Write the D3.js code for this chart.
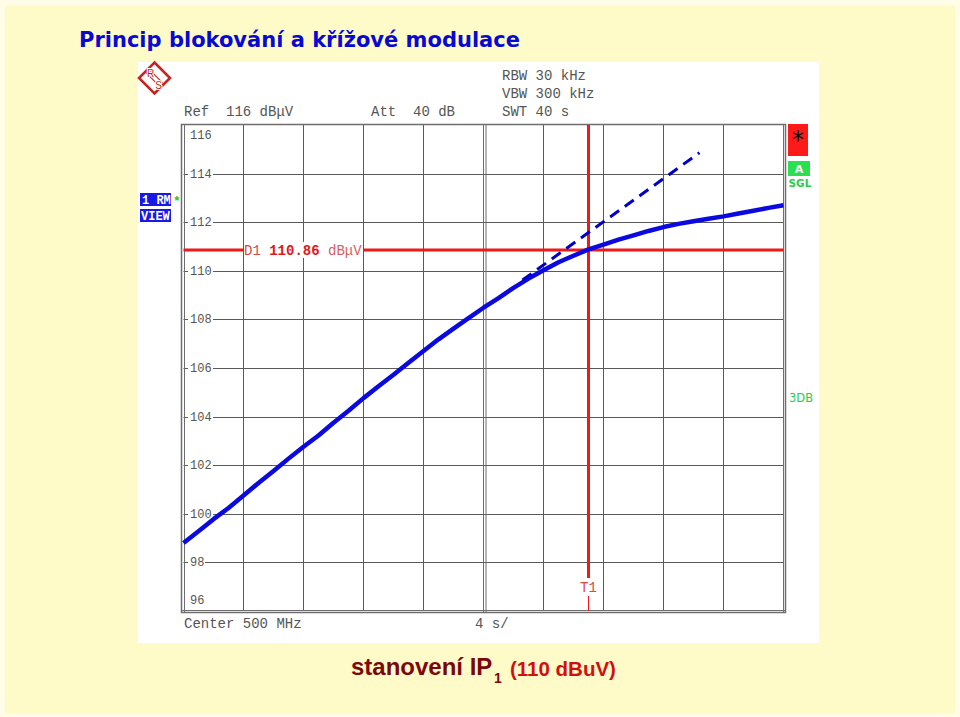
<!DOCTYPE html>
<html>
<head>
<meta charset="utf-8">
<script src="https://cdn.jsdelivr.net/npm/d3@7"></script>
<style>
body { margin: 0; background: #fffde8; }
svg { display: block; }
text { white-space: pre; }
</style>
</head>
<body>
<svg width="960" height="717"></svg>
<script>

// sweep: time (s) vs level (dBµV)
var timeS = [0,1,2,3,4,5,6,7,8,9,10,11,12,13,14,15,16,17,18,19,20,
             21,22,23,24,25,26,27,28,29,30,31,32,33,34,35,36,37,38,39,40];
var levelDb = [98.80,99.28,99.78,100.24,100.75,101.27,101.76,102.27,102.76,103.22,103.75,
               104.24,104.76,105.25,105.72,106.22,106.70,107.18,107.62,108.05,108.48,
               108.88,109.30,109.68,110.02,110.35,110.62,110.88,111.08,111.28,111.46,
               111.64,111.80,111.93,112.04,112.14,112.24,112.36,112.47,112.59,112.70];

// dashed linear extrapolation
var tangentT = [22.6, 34.4];
var tangentDb = [109.62, 114.86];

var yTicks = [114,112,110,108,106,104,102,100,98];
var xGrid = [4,8,12,16,20,24,28,32,36];
var refLevel = 116, bottomLevel = 96, sweepTime = 40;
var d1Level = 110.86, t1Time = 27;

var headerLeft = [['Ref  116 dBμV', 184], ['Att  40 dB', 371]];
var headerRight = ['RBW 30 kHz', 'VBW 300 kHz', 'SWT 40 s'];

var mono = "'Liberation Mono', 'Courier New', monospace";
var sans = "'Liberation Sans', Arial, sans-serif";

var svg = d3.select('svg');

svg.append('rect').attr('x',5).attr('y',5).attr('width',950).attr('height',709).attr('fill','#fffbc9');
svg.append('rect').attr('x',138).attr('y',62).attr('width',681).attr('height',581).attr('fill','#ffffff');

// title
svg.append('text')
    .attr('x',79).attr('y',47)
    .attr('font-family',"'DejaVu Sans Condensed', 'DejaVu Sans', Verdana, sans-serif")
    .attr('font-weight','bold').attr('font-size',21.5)
    .attr('textLength',441).attr('lengthAdjust','spacingAndGlyphs')
    .attr('fill','#0808d4')
    .text('Princip blokování a křížové modulace');

var scaleX = d3.scaleLinear().domain([0, sweepTime]).range([183.5, 783.5]);
var scaleY = d3.scaleLinear().domain([bottomLevel, refLevel]).range([611, 125]);

// grid
var grid = svg.append('g').attr('stroke','#5a5a5a').attr('stroke-width',1);
grid.selectAll('.hline').data(yTicks).enter().append('line')
    .attr('x1',scaleX(0)).attr('x2',scaleX(sweepTime))
    .attr('y1',function(d){ return Math.round(scaleY(d))+0.5; })
    .attr('y2',function(d){ return Math.round(scaleY(d))+0.5; });
grid.selectAll('.vline').data(xGrid).enter().append('line')
    .attr('x1',function(d){ return scaleX(d); })
    .attr('x2',function(d){ return scaleX(d); })
    .attr('y1',scaleY(refLevel)).attr('y2',scaleY(bottomLevel));

// frame (double lines like the analyser screen)
var frame = svg.append('g').attr('stroke','#6e6e6e').attr('fill','none');
frame.append('rect').attr('x',181.5).attr('y',124.5).attr('width',604).attr('height',488).attr('stroke-width',1.5);
frame.append('line').attr('x1',184.5).attr('x2',184.5).attr('y1',125).attr('y2',612);
frame.append('line').attr('x1',scaleX(20)).attr('x2',scaleX(20)).attr('y1',125).attr('y2',612);
frame.append('line').attr('x1',scaleX(20)+2.5).attr('x2',scaleX(20)+2.5).attr('y1',125).attr('y2',612);
frame.append('line').attr('x1',783.5).attr('x2',783.5).attr('y1',125).attr('y2',612);
frame.append('line').attr('x1',182).attr('x2',785).attr('y1',610.5).attr('y2',610.5);

// y tick labels on white patches
var labels = svg.append('g').attr('font-family',mono).attr('font-size',12).attr('fill','#555');
labels.selectAll('.lbg').data(yTicks).enter().append('rect')
    .attr('x',188).attr('y',function(d){ return scaleY(d)-6; })
    .attr('width',function(d){ return d >= 100 ? 25 : 17; }).attr('height',12)
    .attr('fill','#fff');
labels.selectAll('.ltx').data(yTicks).enter().append('text')
    .attr('x',190).attr('y',function(d){ return scaleY(d)+4; })
    .text(function(d){ return d; });
labels.append('text').attr('x',190).attr('y',scaleY(refLevel)+14).text(refLevel);
labels.append('text').attr('x',190).attr('y',scaleY(bottomLevel)-7).text(bottomLevel);

// markers
var red = '#f01818';
svg.append('line')
    .attr('x1',scaleX(0)).attr('x2',scaleX(sweepTime))
    .attr('y1',scaleY(d1Level)).attr('y2',scaleY(d1Level))
    .attr('stroke',red).attr('stroke-width',3);
svg.append('rect').attr('x',244).attr('y',scaleY(d1Level)-8).attr('width',119).attr('height',16).attr('fill','#fff');
var d1 = svg.append('text').attr('x',244).attr('y',scaleY(d1Level)+5)
    .attr('font-family',mono).attr('font-size',14);
d1.append('tspan').attr('fill','#d84848').text('D1 ');
d1.append('tspan').attr('fill','#e01818').attr('font-weight','bold').text(d1Level.toFixed(2));
d1.append('tspan').attr('fill','#d86060').text(' dBμV');

svg.append('line')
    .attr('x1',scaleX(t1Time)).attr('x2',scaleX(t1Time))
    .attr('y1',scaleY(refLevel)).attr('y2',578)
    .attr('stroke',red).attr('stroke-width',3);
svg.append('line')
    .attr('x1',scaleX(t1Time)).attr('x2',scaleX(t1Time))
    .attr('y1',596).attr('y2',611)
    .attr('stroke',red).attr('stroke-width',1);
svg.append('text').attr('x',scaleX(t1Time)).attr('y',592)
    .attr('text-anchor','middle').attr('font-family',mono).attr('font-size',14)
    .attr('fill','#d84848').text('T1');

// trace
var line = d3.line()
    .x(function(d,i){ return scaleX(timeS[i]); })
    .y(function(d){ return scaleY(d); });
svg.append('path').datum(levelDb)
    .attr('d',line)
    .attr('fill','none').attr('stroke','#0a0ae0').attr('stroke-width',4.5)
    .attr('stroke-linejoin','round');

var tline = d3.line()
    .x(function(d,i){ return scaleX(tangentT[i]); })
    .y(function(d){ return scaleY(d); });
svg.append('path').datum(tangentDb)
    .attr('d',tline)
    .attr('fill','none').attr('stroke','#0000c8').attr('stroke-width',3)
    .attr('stroke-dasharray','11,7');

// header text
var head = svg.append('g').attr('font-family',mono).attr('font-size',14).attr('fill','#555');
head.selectAll('.hl').data(headerLeft).enter().append('text')
    .attr('x',function(d){ return d[1]; }).attr('y',116)
    .text(function(d){ return d[0]; });
head.selectAll('.hr').data(headerRight).enter().append('text')
    .attr('x',502).attr('y',function(d,i){ return 80 + i*18; })
    .text(function(d){ return d; });
head.append('text').attr('x',184).attr('y',628).text('Center 500 MHz');
head.append('text').attr('x',475).attr('y',628).text('4 s/');

// left status boxes
var blue = '#1818e8';
svg.append('rect').attr('x',140).attr('y',193).attr('width',31).attr('height',13).attr('fill',blue);
svg.append('rect').attr('x',140).attr('y',209).attr('width',31).attr('height',13).attr('fill',blue);
svg.append('text').attr('x',142).attr('y',203.5).attr('font-family',mono).attr('font-size',12)
    .attr('font-weight','bold').attr('fill','#fff').text('1 RM');
svg.append('text').attr('x',141).attr('y',219.5).attr('font-family',mono).attr('font-size',12)
    .attr('font-weight','bold').attr('fill','#fff').text('VIEW');
svg.append('text').attr('x',173).attr('y',205).attr('font-family',mono).attr('font-size',13)
    .attr('font-weight','bold').attr('fill','#30c030').text('*');

// right status boxes
svg.append('rect').attr('x',788).attr('y',124).attr('width',20).attr('height',32).attr('fill','#ff1a1a');
svg.append('text').attr('x',798).attr('y',148).attr('text-anchor','middle')
    .attr('font-family',"'DejaVu Sans', sans-serif").attr('font-size',24).attr('fill','#111').text('*');
svg.append('rect').attr('x',788).attr('y',161).attr('width',22).attr('height',15).attr('fill','#28e050');
svg.append('text').attr('x',799).attr('y',172.5).attr('text-anchor','middle')
    .attr('font-family',"'DejaVu Sans', sans-serif").attr('font-weight','bold').attr('font-size',11)
    .attr('fill','#fff').text('A');
svg.append('text').attr('x',800).attr('y',187).attr('text-anchor','middle')
    .attr('font-family',"'DejaVu Sans', sans-serif").attr('font-weight','bold').attr('font-size',10.5)
    .attr('fill','#28cc48').text('SGL');
svg.append('text').attr('x',789).attr('y',401.5)
    .attr('font-family',"'DejaVu Sans', sans-serif").attr('font-size',11.5)
    .attr('fill','#28cc48').text('3DB');

// R&S logo
var logo = svg.append('g').attr('transform','translate(154.5,78)');
var logoRed = '#c42424';
logo.append('path').attr('d','M0,-15.5 L15.5,0 L0,15.5 L-15.5,0 Z')
    .attr('fill','#fff').attr('stroke',logoRed).attr('stroke-width',2.6);
[-1.6, 1.6].forEach(function(o){
    logo.append('line')
        .attr('x1',-8+o).attr('y1',-8-o).attr('x2',8+o).attr('y2',8-o)
        .attr('stroke',logoRed).attr('stroke-width',1.2);
});
logo.append('text').attr('x',-4).attr('y',-1.5).attr('text-anchor','middle')
    .attr('font-family',sans).attr('font-size',10).attr('fill',logoRed)
    .attr('stroke','#fff').attr('stroke-width',2).attr('paint-order','stroke').text('R');
logo.append('text').attr('x',4).attr('y',11).attr('text-anchor','middle')
    .attr('font-family',sans).attr('font-size',10).attr('fill',logoRed)
    .attr('stroke','#fff').attr('stroke-width',2).attr('paint-order','stroke').text('S');

// caption
svg.append('text').attr('x',351).attr('y',675)
    .attr('font-family',sans).attr('font-weight','bold')
    .attr('font-size',24).attr('fill','#7a0808').text('stanovení IP');
svg.append('text').attr('x',494).attr('y',683)
    .attr('font-family',sans).attr('font-weight','bold')
    .attr('font-size',14).attr('fill','#7a0808').text('1');
svg.append('text').attr('x',510).attr('y',676)
    .attr('font-family',sans).attr('font-weight','bold')
    .attr('font-size',20.5).attr('fill','#d01010').text('(110 dBuV)');

</script>
</body>
</html>
